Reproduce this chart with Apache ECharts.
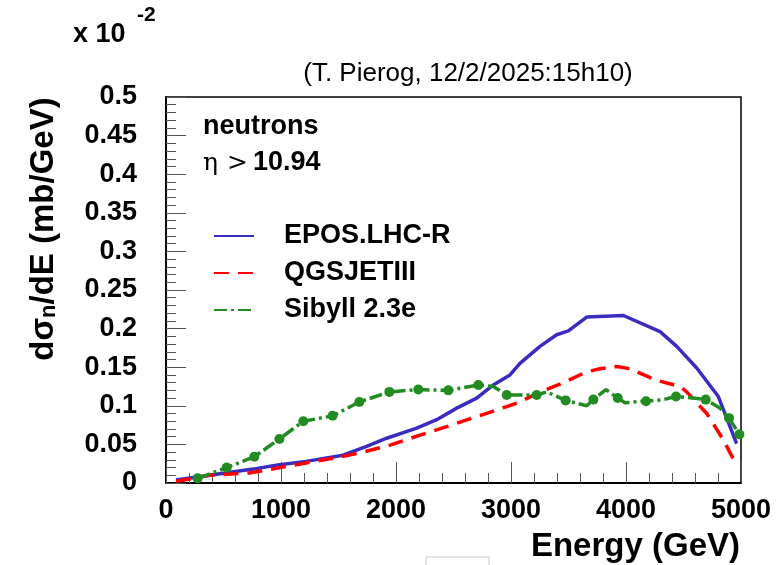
<!DOCTYPE html>
<html>
<head>
<meta charset="utf-8">
<script src="https://cdn.jsdelivr.net/npm/echarts@6/dist/echarts.min.js"></script>
<style>
html,body{margin:0;padding:0;background:#fff;}
#c{width:780px;height:565px;}
</style>
</head>
<body>
<div id="c"></div>
<script>
// ---- data (values in units of 1e-2 mb/GeV) ----
const seriesNames = ['EPOS.LHC-R', 'QGSJETIII', 'Sibyll 2.3e'];
const xTicks = [0, 1000, 2000, 3000, 4000, 5000];
const yTicks = [0, 0.05, 0.1, 0.15, 0.2, 0.25, 0.3, 0.35, 0.4, 0.45, 0.5];

const eposE = [87, 287, 757, 957, 1217, 1539, 1739, 1919, 2180, 2354, 2528, 2702, 2846, 2991, 3078, 3252, 3397, 3499, 3658, 3977, 4296, 4441, 4615, 4803, 4962];
const eposV = [0.004, 0.008, 0.018, 0.023, 0.028, 0.036, 0.047, 0.058, 0.071, 0.082, 0.097, 0.110, 0.127, 0.140, 0.155, 0.177, 0.192, 0.197, 0.215, 0.217, 0.196, 0.177, 0.149, 0.112, 0.051];

const qgsE = [87, 377, 724, 957, 1217, 1452, 1687, 1948, 2209, 2441, 2702, 2963, 3078, 3252, 3426, 3658, 3774, 3919, 4035, 4267, 4470, 4528, 4702, 4846, 4962];
const qgsV = [0.002, 0.010, 0.013, 0.019, 0.026, 0.032, 0.039, 0.049, 0.062, 0.073, 0.086, 0.099, 0.105, 0.118, 0.128, 0.144, 0.148, 0.151, 0.148, 0.133, 0.125, 0.118, 0.090, 0.056, 0.023];

const sibE = [275, 528, 768, 986, 1194, 1449, 1681, 1942, 2194, 2455, 2716, 2846, 2963, 3223, 3310, 3475, 3658, 3716, 3826, 3928, 3991, 4174, 4325, 4435, 4586, 4693, 4817, 4896, 4986];
const sibV = [0.006, 0.020, 0.034, 0.057, 0.080, 0.087, 0.105, 0.118, 0.121, 0.120, 0.127, 0.125, 0.114, 0.114, 0.118, 0.107, 0.100, 0.108, 0.121, 0.110, 0.104, 0.106, 0.108, 0.112, 0.110, 0.108, 0.097, 0.084, 0.063];

const sibMarkE = [275, 528, 768, 986, 1194, 1449, 1681, 1942, 2194, 2455, 2716, 2963, 3223, 3475, 3716, 3928, 4174, 4435, 4693, 4896, 4986];
const sibMarkV = [0.006, 0.020, 0.034, 0.057, 0.080, 0.087, 0.105, 0.118, 0.121, 0.120, 0.127, 0.114, 0.114, 0.107, 0.108, 0.110, 0.106, 0.112, 0.108, 0.084, 0.063];

const zip = (a, b) => a.map((v, i) => [v, b[i]]);

const FONT = '"Liberation Sans", Arial, Helvetica, sans-serif';
const BLUE = '#3b2cc0', RED = '#ff0000', GREEN = '#228b22';

const chart = echarts.init(document.getElementById('c'), null, {renderer: 'canvas'});
chart.setOption({
  animation: false,
  backgroundColor: '#fff',
  textStyle: {fontFamily: FONT},
  grid: {left: 166, right: 39, top: 97, bottom: 82, show: true, borderColor: '#000', borderWidth: 1.5, backgroundColor: 'transparent'},
  xAxis: {
    type: 'value', min: xTicks[0], max: xTicks[xTicks.length - 1], interval: 1000,
    axisLine: {show: true, lineStyle: {color: '#000', width: 2}},
    axisTick: {show: true, inside: true, length: 21, lineStyle: {color: '#555', width: 1}},
    minorTick: {show: true, splitNumber: 5, length: 10, lineStyle: {color: '#555', width: 1}},
    splitLine: {show: false},
    axisLabel: {fontSize: 27, fontWeight: 'bold', color: '#000', margin: 14, fontFamily: FONT,
      showMaxLabel: true, showMinLabel: true, formatter: v => String(v)}
  },
  yAxis: {
    type: 'value', min: yTicks[0], max: yTicks[yTicks.length - 1], interval: 0.05,
    axisLine: {show: true, lineStyle: {color: '#000', width: 2}},
    axisTick: {show: true, inside: true, length: 20, lineStyle: {color: '#555', width: 1}},
    minorTick: {show: true, splitNumber: 5, length: 10, lineStyle: {color: '#555', width: 1}},
    splitLine: {show: false},
    axisLabel: {fontSize: 27, fontWeight: 'bold', color: '#000', margin: 29, fontFamily: FONT,
      formatter: v => String(parseFloat(v.toFixed(2)))}
  },
  legend: {
    data: seriesNames,
    orient: 'vertical', left: 213, top: 221, padding: 0,
    itemWidth: 40, itemHeight: 14, itemGap: 7,
    itemStyle: {opacity: 0},
    textStyle: {fontSize: 27, fontWeight: 'bold', color: '#000', fontFamily: FONT, padding: [0, 0, 0, 25], lineHeight: 30}
  },
  series: [
    {name: seriesNames[0], type: 'line', data: zip(eposE, eposV), symbol: 'none', smooth: false,
      lineStyle: {color: BLUE, width: 3.5}, itemStyle: {color: BLUE}, z: 3},
    {name: seriesNames[1], type: 'line', data: zip(qgsE, qgsV), symbol: 'none',
      lineStyle: {color: RED, width: 3.5, type: [15, 9]}, itemStyle: {color: RED}, z: 4},
    {name: seriesNames[2], type: 'line', data: zip(sibE, sibV), symbol: 'none',
      lineStyle: {color: GREEN, width: 3.5, type: [13, 4, 3, 4]}, itemStyle: {color: GREEN}, z: 5},
    {name: 'Sibyll 2.3e points', type: 'scatter', data: zip(sibMarkE, sibMarkV), symbol: 'circle', symbolSize: 10,
      itemStyle: {color: GREEN, opacity: 1}, z: 6}
  ],
  graphic: [
    {type: 'text', x: 73, y: 35, style: {
      text: 'x 10', font: 'bold 27px ' + FONT, fill: '#000', align: 'left', verticalAlign: 'middle'
    }},
    {type: 'text', x: 137, y: 15, style: {
      text: '-2', font: 'bold 21px ' + FONT, fill: '#000', align: 'left', verticalAlign: 'middle'
    }},
    {type: 'text', x: 468, y: 74, style: {
      text: '(T. Pierog, 12/2/2025:15h10)', font: '26px ' + FONT, fill: '#000', align: 'center', verticalAlign: 'middle'
    }},
    {type: 'text', x: 203, y: 127, style: {
      text: 'neutrons', font: 'bold 27px ' + FONT, fill: '#000', align: 'left', verticalAlign: 'middle'
    }},
    {type: 'text', x: 203, y: 163, style: {
      text: '{g|η}{s| }{g|>}{t| }{n|10.94}', align: 'left', verticalAlign: 'middle', fill: '#000',
      rich: {g: {fontSize: 25, fontFamily: '"DejaVu Serif", "Liberation Serif", serif', fill: '#000'},
             s: {fontSize: 25, fontFamily: FONT, fill: '#000', width: 9},
             t: {fontSize: 25, fontFamily: FONT, fill: '#000', width: 5},
             n: {fontSize: 27, fontWeight: 'bold', fontFamily: FONT, fill: '#000'}}
    }},
    {type: 'text', x: 40, y: 229, rotation: Math.PI / 2, style: {
      text: '{a|dσ}{s|n}{a|/dE (mb/GeV)}', align: 'center', verticalAlign: 'middle', fill: '#000',
      rich: {a: {fontSize: 33, fontWeight: 'bold', fontFamily: FONT, lineHeight: 40, verticalAlign: 'bottom'},
             s: {fontSize: 22, fontWeight: 'bold', fontFamily: FONT, lineHeight: 22, verticalAlign: 'bottom', padding: [14, 0, 0, 0]}}
    }},
    {type: 'text', x: 740, y: 547, style: {
      text: 'Energy (GeV)', font: 'bold 33px ' + FONT, fill: '#000', align: 'right', verticalAlign: 'middle'
    }},
    {type: 'rect', shape: {x: 426, y: 557, width: 63, height: 20}, style: {fill: 'none', stroke: '#c8c8c8', lineWidth: 1}}
  ]
});
</script>
</body>
</html>
